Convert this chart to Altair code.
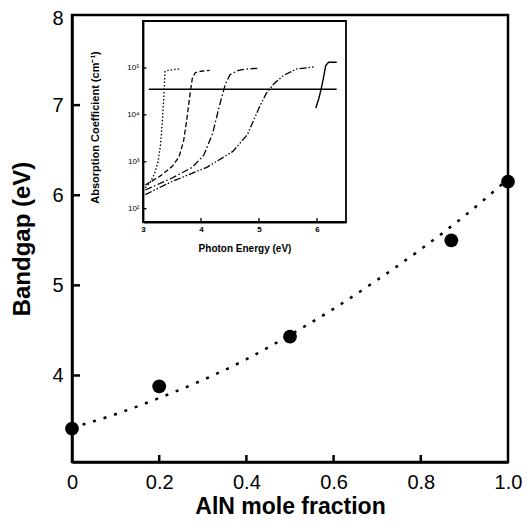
import altair as alt
import pandas as pd

# ---------------- main panel data ----------------
mole_fraction = [0.0, 0.2, 0.5, 0.87, 1.0]
bandgap = [3.41, 3.88, 4.43, 5.50, 6.15]

fit_x = [0.0, 0.1, 0.2, 0.3, 0.4, 0.5, 0.6, 0.7, 0.8, 0.9, 1.0]
fit_y = [3.42, 3.57, 3.75, 3.95, 4.18, 4.45, 4.74, 5.06, 5.40, 5.77, 6.18]

main_x_ticks = [0.2, 0.4, 0.6, 0.8]
main_y_ticks = [4, 5, 6, 7]
main_x_labels = [0.0, 0.2, 0.4, 0.6, 0.8, 1.0]
main_y_labels = [4, 5, 6, 7, 8]
main_x_domain = [0.0, 1.0]
main_y_domain = [3.04, 8.0]

# ---------------- inset data ----------------
inset_e_domain = [3.0, 6.5]
inset_a_domain = [52, 1000000]
inset_x_ticks = [4, 5, 6]
inset_x_labels = [3, 4, 5, 6]
inset_y_ticks = [100, 1000, 10000, 100000]

e_x00 = [3.04, 3.12, 3.20, 3.26, 3.30, 3.33, 3.36, 3.38, 3.45, 3.55, 3.65]
a_x00 = [280, 355, 560, 1000, 2200, 6300, 25000, 85000, 89000, 93000, 95000]

e_x02 = [3.04, 3.30, 3.50, 3.62, 3.70, 3.75, 3.80, 3.85, 3.90, 4.00, 4.15]
a_x02 = [320, 500, 790, 1260, 2800, 7100, 22000, 60000, 79000, 85000, 89000]

e_x05 = [3.04, 3.50, 3.85, 4.05, 4.20, 4.32, 4.42, 4.50, 4.65, 4.80, 4.97]
a_x05 = [250, 450, 760, 1400, 4000, 16000, 45000, 72000, 89000, 95000, 98000]

e_x087 = [3.04, 3.50, 4.10, 4.55, 4.80, 5.00, 5.12, 5.25, 5.42, 5.65, 5.95]
a_x087 = [200, 380, 760, 1660, 3800, 14000, 28000, 45000, 69000, 95000, 105000]

e_x10 = [5.98, 6.03, 6.07, 6.11, 6.15, 6.20, 6.34]
a_x10 = [14000, 22000, 35000, 60000, 112000, 132000, 132000]

ref_e = [3.10, 6.34]
ref_a = [35000, 35000]

W, H = 436, 447
FONT = "Liberation Sans"

# ---------------- main panel ----------------
xs = alt.Scale(domain=main_x_domain, nice=False, zero=False)
ys = alt.Scale(domain=main_y_domain, nice=False, zero=False)

x_axis = alt.Axis(
    values=main_x_labels, labelExpr="datum.value == 0 ? '0' : format(datum.value, '.1f')",
    ticks=False, tickSize=0, grid=False, labelFlush=False, labelFont=FONT, labelFontSize=20,
    labelColor="black", labelPadding=10, domainColor="black", domainWidth=2.5,
    titleFont=FONT, titleFontSize=23, titleFontWeight="bold", titleColor="black", titlePadding=3,
)
y_axis = alt.Axis(
    values=main_y_labels, format="d",
    ticks=False, tickSize=0, grid=False, labelFlush=False, labelFont=FONT, labelFontSize=20,
    labelColor="black", labelPadding=9,
    labelOffset={"condition": {"test": "datum.value == 8", "value": 3}, "value": 0},
    domainColor="black", domainWidth=2.5,
    titleFont=FONT, titleFontSize=24, titleFontWeight="bold", titleColor="black", titlePadding=17,
)

def MX():
    return alt.X("x:Q", scale=xs, axis=x_axis, title="AlN mole fraction")

def MY():
    return alt.Y("y:Q", scale=ys, axis=y_axis, title="Bandgap (eV)")

df_fit = pd.DataFrame({"x": fit_x, "y": fit_y})
df_pts = pd.DataFrame({"x": mole_fraction, "y": bandgap})
df_xt = pd.DataFrame({"x": main_x_ticks})
df_yt = pd.DataFrame({"y": main_y_ticks})

fit = alt.Chart(df_fit).mark_line(
    color="black", strokeWidth=2.5, strokeDash=[3, 8], interpolate="monotone"
).encode(x=MX(), y=MY())

pts = alt.Chart(df_pts).mark_circle(size=190, color="black", opacity=1).encode(x=MX(), y=MY())

yt = alt.Chart(df_yt).mark_rule(color="black", strokeWidth=2.5).encode(
    y=MY(), x=alt.value(0), x2=alt.value(8)
)
xt = alt.Chart(df_xt).mark_rule(color="black", strokeWidth=2.5).encode(
    x=MX(), y=alt.value(H), y2=alt.value(H - 7)
)

main = alt.layer(fit, pts, yt, xt)

# ---------------- inset ----------------
IB = 207  # inset bottom inside plot coords
ixs = alt.Scale(domain=inset_e_domain, range=[71, 274], nice=False, zero=False)
iys = alt.Scale(type="log", domain=inset_a_domain, range=[IB, 6], nice=False)

sup = "datum.value == 100 ? '10²' : datum.value == 1000 ? '10³' : datum.value == 10000 ? '10⁴' : '10⁵'"

ix_axis = alt.Axis(
    orient="bottom", offset=-(H - IB), values=inset_x_labels, format="d",
    ticks=False, tickSize=0, grid=False, labelFlush=False, labelFont=FONT, labelFontSize=8,
    labelFontWeight="bold", labelColor="black", labelPadding=3,
    domainColor="black", domainWidth=1.8,
    titleFont=FONT, titleFontSize=10, titleFontWeight="bold", titleColor="black", titlePadding=10,
)
iy_axis = alt.Axis(
    orient="left", offset=-71, values=inset_y_ticks, labelExpr=sup,
    ticks=False, tickSize=0, grid=False, labelFlush=False, labelFont=FONT, labelFontSize=8,
    labelColor="black", labelPadding=4,
    domainColor="black", domainWidth=1.8,
    titleFont=FONT, titleFontSize=11, titleFontWeight="bold", titleColor="black", titlePadding=26,
    titleY=112,
)

def IX(field="E"):
    return alt.X(f"{field}:Q", scale=ixs, axis=ix_axis, title="Photon Energy (eV)")

def IY(field="A"):
    return alt.Y(f"{field}:Q", scale=iys, axis=iy_axis, title="Absorption Coefficient (cm⁻¹)")

df_frame = pd.DataFrame({"E": [inset_e_domain[0]], "E2": [inset_e_domain[1]],
                         "A": [inset_a_domain[0]], "A2": [inset_a_domain[1]]})
frame = alt.Chart(df_frame).mark_rect(
    fillOpacity=0, stroke="black", strokeWidth=1.8
).encode(x=IX(), x2="E2:Q", y=IY(), y2="A2:Q")

df_ref = pd.DataFrame({"E": ref_e, "A": ref_a})
ref = alt.Chart(df_ref).mark_line(color="black", strokeWidth=1.6).encode(x=IX(), y=IY())

series = [
    (e_x00, a_x00, [1.5, 2]),
    (e_x02, a_x02, [5, 2.5]),
    (e_x05, a_x05, [7, 2.5, 1.5, 2.5]),
    (e_x087, a_x087, [7, 2, 1.5, 2, 1.5, 2]),
    (e_x10, a_x10, None),
]
curve_layers = []
for e, a, dash in series:
    d = pd.DataFrame({"E": e, "A": a})
    if dash is None:
        m = alt.Chart(d).mark_line(color="black", strokeWidth=1.4)
    else:
        m = alt.Chart(d).mark_line(color="black", strokeWidth=1.3, strokeDash=dash)
    curve_layers.append(m.encode(x=IX(), y=IY()))

df_ixt = pd.DataFrame({"E": inset_x_ticks})
ixt = alt.Chart(df_ixt).mark_rule(color="black", strokeWidth=1.3).encode(
    x=IX(), y=alt.datum(inset_a_domain[0]), y2=alt.datum(63)
)
df_iyt = pd.DataFrame({"A": inset_y_ticks})
iyt = alt.Chart(df_iyt).mark_rule(color="black", strokeWidth=1.3).encode(
    y=IY(), x=alt.datum(inset_e_domain[0]), x2=alt.datum(3.06)
)

inset = alt.layer(frame, ref, *curve_layers, ixt, iyt)

chart = (
    alt.layer(main, inset)
    .resolve_scale(x="independent", y="independent")
    .properties(
        width=W, height=H,
        autosize=alt.AutoSizeParams(type="none"),
        padding={"left": 64, "top": 7, "right": 14, "bottom": 60},
        background="white",
    )
    .configure_view(stroke="black", strokeWidth=2.5)
)

chart.save("out.html", embed_options={"renderer": "svg", "actions": False})
